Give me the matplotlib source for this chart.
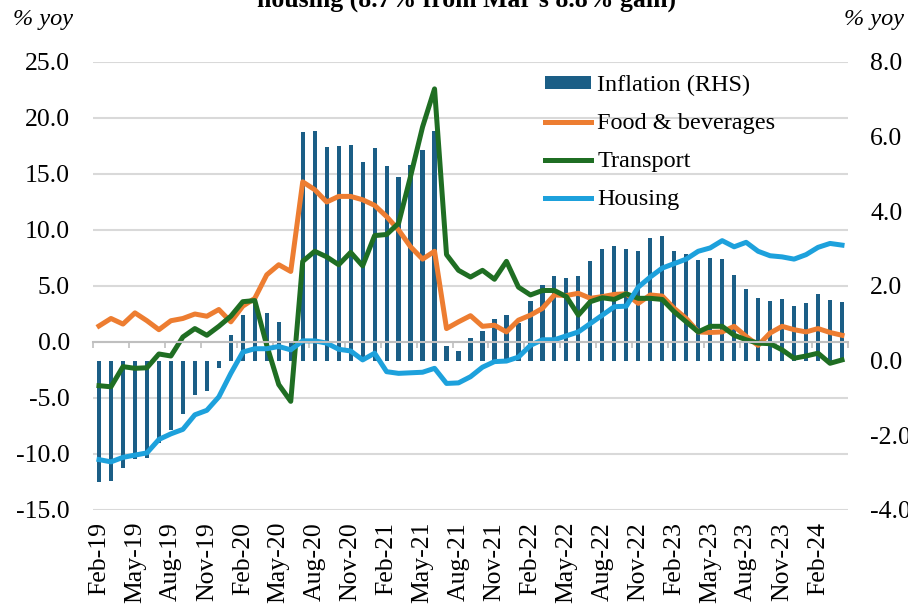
import numpy as np
import pandas as pd
import matplotlib
matplotlib.use("Agg")
import matplotlib.pyplot as plt
import matplotlib.transforms as mtransforms

plt.rcParams['font.family'] = ['Liberation Serif', 'DejaVu Serif']

# monthly data, Feb-19 .. Apr-24
months = pd.date_range('2019-02-01', periods=63, freq='MS').strftime('%b-%y').tolist()

inflation = [-3.26, -3.23, -2.88, -2.63, -2.61, -2.20, -1.87, -1.42, -0.91, -0.82,
             -0.20, 0.70, 1.21, 1.65, 1.28, 1.04, 0.46, 6.12, 6.16, 5.72,
             5.74, 5.78, 5.31, 5.70, 5.22, 4.92, 5.24, 5.65, 6.14, 0.40,
             0.25, 0.62, 0.79, 1.12, 1.21, 1.01, 1.59, 2.02, 2.28, 2.21,
             2.28, 2.66, 2.98, 3.06, 3.00, 2.93, 3.29, 3.35, 2.95, 2.87,
             2.69, 2.75, 2.72, 2.29, 1.93, 1.68, 1.59, 1.65, 1.47, 1.55,
             1.79, 1.63, 1.56]

food = [1.43, 2.1, 1.6, 2.6, 1.9, 1.1, 1.9, 2.1, 2.5, 2.3,
        2.9, 1.8, 3.2, 3.9, 6.0, 6.9, 6.3, 14.3, 13.6, 12.5,
        13.0, 13.0, 12.7, 12.2, 11.2, 10.0, 8.5, 7.4, 8.1, 1.2,
        1.8, 2.35, 1.4, 1.5, 0.9, 1.95, 2.4, 3.0, 4.2, 4.15,
        4.35, 3.9, 4.05, 4.25, 4.3, 3.45, 4.2, 4.1, 3.0, 2.1,
        0.9, 0.85, 0.9, 1.4, 0.5, -0.3, 0.8, 1.4, 1.1, 0.9,
        1.2, 0.85, 0.6]

transport = [-3.9, -4.0, -2.2, -2.35, -2.3, -1.07, -1.25, 0.45, 1.2, 0.6,
             1.4, 2.3, 3.6, 3.7, -0.3, -3.8, -5.3, 7.2, 8.1, 7.6,
             6.9, 8.0, 6.8, 9.5, 9.6, 10.6, 14.8, 19.2, 22.6, 7.8,
             6.4, 5.8, 6.4, 5.6, 7.2, 4.9, 4.2, 4.6, 4.6, 4.05,
             2.4, 3.6, 3.95, 3.8, 4.3, 3.9, 3.9, 3.8, 2.7, 1.8,
             0.9, 1.4, 1.4, 0.6, 0.2, -0.1, -0.15, -0.7, -1.45, -1.25,
             -1.0, -1.9, -1.6]

housing = [-10.5, -10.7, -10.3, -10.1, -9.9, -8.7, -8.2, -7.8, -6.5, -6.1,
           -4.9, -2.8, -0.9, -0.6, -0.6, -0.4, -0.7, 0.1, 0.1, -0.1,
           -0.65, -0.8, -1.6, -1.0, -2.65, -2.8, -2.75, -2.7, -2.35, -3.7,
           -3.65, -3.1, -2.25, -1.75, -1.7, -1.35, -0.3, 0.2, 0.2, 0.55,
           0.9, 1.65, 2.4, 3.15, 3.2, 4.9, 5.8, 6.6, 7.0, 7.4,
           8.1, 8.4, 9.05, 8.5, 8.9, 8.1, 7.7, 7.6, 7.4, 7.8,
           8.45, 8.8, 8.65]

left_ticks = np.arange(-15, 26, 5)
right_ticks = np.arange(-4, 9, 2)

c_bar = '#1b5e86'
c_food = '#ed7d31'
c_trans = '#1f6e23'
c_house = '#1da1dc'
c_grid = '#d9d9d9'
fs = 18.5

x = np.arange(len(months))

fig = plt.figure(figsize=(9.08, 6.07), dpi=100)
ax = fig.add_axes([93/908, 1-510/607, (848-93)/908, (510-62)/607])
ax2 = ax.twinx()
ax.set_zorder(ax2.get_zorder() + 1)
ax.patch.set_visible(False)

ax.set_xlim(-0.5, len(months) - 0.5)
ax.set_ylim(-15, 25)
ax2.set_ylim(-4, 8)

# gridlines (left scale) drawn behind the bars
trans = mtransforms.blended_transform_factory(ax2.transAxes, ax.transData)
for v in left_ticks:
    ax2.plot([0, 1], [v, v], transform=trans, color=c_grid, lw=1.5, zorder=0)

bars = ax2.bar(x, inflation, width=0.35, color=c_bar, zorder=2, label='Inflation (RHS)')

l1, = ax.plot(x, food, color=c_food, lw=3.6, solid_joinstyle='round', label='Food & beverages')
l2, = ax.plot(x, transport, color=c_trans, lw=3.6, solid_joinstyle='round', label='Transport')
l3, = ax.plot(x, housing, color=c_house, lw=3.6, solid_joinstyle='round', label='Housing')

# axes styling
for s in ['top', 'left', 'right']:
    ax.spines[s].set_visible(False)
for s in ax2.spines.values():
    s.set_visible(False)
ax.spines['bottom'].set_position(('data', 0))
ax.spines['bottom'].set_color('#bfbfbf')
ax.spines['bottom'].set_linewidth(1.5)

ax.set_yticks(left_ticks, ['%.1f' % v for v in left_ticks])
ax.tick_params(axis='y', length=0, pad=16.5, labelsize=fs)
ax2.set_yticks(right_ticks, ['%.1f' % v for v in right_ticks])
ax2.tick_params(axis='y', length=0, pad=16, labelsize=fs)

ax.set_xticks(np.arange(-0.5, len(months), 3), [])
ax.tick_params(axis='x', length=4.5, width=1.2, color='#bfbfbf', direction='out')

sec = ax.secondary_xaxis('bottom')
sec.set_xticks(x[::3], months[::3], rotation=90)
sec.tick_params(length=0, pad=8.5, labelsize=fs)
sec.spines['bottom'].set_visible(False)

ax.legend([bars, l1, l2, l3], ['Inflation (RHS)', 'Food & beverages', 'Transport', 'Housing'],
          loc='upper left', bbox_to_anchor=(545/908, 1-75/607), bbox_transform=fig.transFigure,
          frameon=False, fontsize=17.5, handlelength=1.9, handleheight=0.45,
          handletextpad=0.25, labelspacing=0.7, borderpad=0, borderaxespad=0)

fig.text(13/908, 1-20/607, '% yoy', fontsize=17.5, style='italic', ha='left', va='center')
fig.text(904/908, 1-20/607, '% yoy', fontsize=17.5, style='italic', ha='right', va='center')
fig.text(467/908, 1-7/607, "housing (8.7% from Mar's 8.8% gain)", fontsize=18.5,
         fontweight='bold', ha='center', va='baseline')

fig.savefig('out.png', dpi=100)
